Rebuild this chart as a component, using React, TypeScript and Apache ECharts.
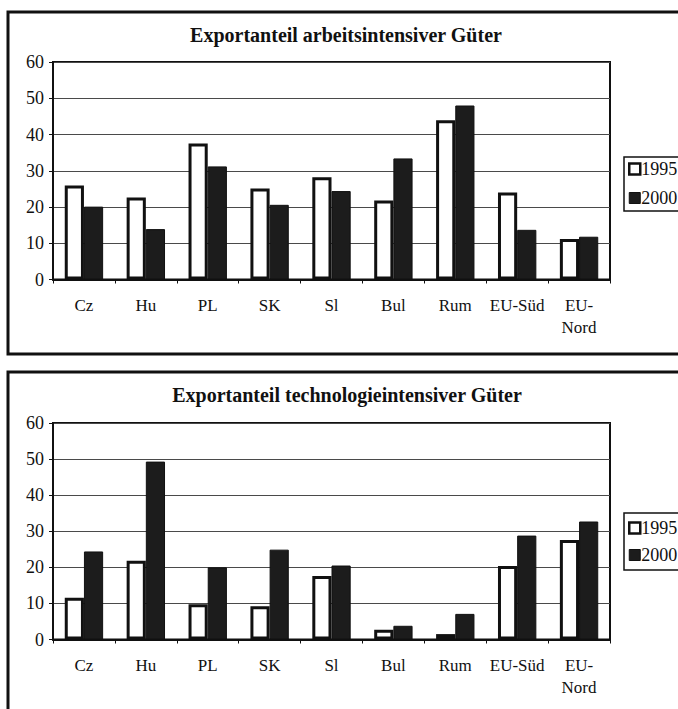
import React, { useEffect, useRef } from "react";
import * as echarts from "echarts";

const categories = ["Cz", "Hu", "PL", "SK", "Sl", "Bul", "Rum", "EU-Süd", "EU-\nNord"];
const yTicks = [0, 10, 20, 30, 40, 50, 60];

const labor1995 = [25.9, 22.6, 37.5, 25.1, 28.2, 21.8, 43.9, 24.0, 11.2];
const labor2000 = [20.1, 13.9, 31.2, 20.6, 24.4, 33.4, 48.0, 13.7, 11.8];

const tech1995 = [11.6, 21.8, 9.8, 9.2, 17.6, 2.7, 1.5, 20.4, 27.6];
const tech2000 = [24.4, 49.3, 20.0, 24.9, 20.5, 3.8, 7.1, 28.8, 32.7];

const titles = [
  "Exportanteil arbeitsintensiver Güter",
  "Exportanteil technologieintensiver Güter",
];
const years = ["1995", "2000"];

const FONT = '"Liberation Serif", "Times New Roman", serif';
const INK = "#111111";

export default function App() {
  const ref = useRef<HTMLDivElement>(null);

  useEffect(() => {
    if (!ref.current) return;
    const chart = echarts.init(ref.current, undefined, { renderer: "svg" });

    const grids = [
      { left: 53, top: 62, width: 557, height: 217.5 },
      { left: 53, top: 423, width: 557, height: 216.5 },
    ];

    const xAxis = grids.map((_, i) => ({
      type: "category",
      gridIndex: i,
      data: categories,
      axisLine: { show: true, lineStyle: { color: INK, width: 2 } },
      axisTick: { show: true, length: 4, lineStyle: { color: INK, width: 1 } },
      axisLabel: {
        color: INK,
        fontFamily: FONT,
        fontSize: 17,
        lineHeight: 22,
        margin: 15,
        interval: 0,
      },
      splitLine: { show: false },
    }));

    const yAxis = grids.map((_, i) => ({
      type: "value",
      gridIndex: i,
      min: 0,
      max: 60,
      interval: 10,
      axisLine: { show: true, lineStyle: { color: INK, width: 2 } },
      axisTick: { show: true, length: 4, lineStyle: { color: INK, width: 1 } },
      axisLabel: {
        color: INK,
        fontFamily: FONT,
        fontSize: 18,
        margin: 9,
        formatter: (v: number) => (yTicks.includes(v) ? String(v) : ""),
      },
      splitLine: { show: true, lineStyle: { color: "#4a4a4a", width: 1 } },
    }));

    const whiteStyle = { color: "#ffffff", borderColor: INK, borderWidth: 3 };
    const blackStyle = { color: "#1c1c1c", borderColor: INK, borderWidth: 1 };

    const mkSeries = (name: string, data: number[], idx: number, style: any) => ({
      type: "bar",
      name,
      data,
      xAxisIndex: idx,
      yAxisIndex: idx,
      barGap: "0%",
      barCategoryGap: "38%",
      itemStyle: style,
      emphasis: { disabled: true },
    });

    const series = [
      mkSeries(years[0], labor1995, 0, whiteStyle),
      mkSeries(years[1], labor2000, 0, blackStyle),
      mkSeries(years[0], tech1995, 1, whiteStyle),
      mkSeries(years[1], tech2000, 1, blackStyle),
    ];

    const legendData = [
      { name: years[0], itemStyle: { color: "#ffffff", borderColor: INK, borderWidth: 2.5 } },
      { name: years[1], itemStyle: { color: "#1c1c1c", borderColor: INK, borderWidth: 1 } },
    ];

    const mkLegend = (top: number, gap: number, padding: number[]) => ({
      orient: "vertical",
      left: 624,
      top,
      data: legendData,
      icon: "rect",
      itemWidth: 11,
      itemHeight: 11,
      itemGap: gap,
      padding,
      borderColor: INK,
      borderWidth: 1.5,
      selectedMode: false,
      textStyle: {
        color: INK,
        fontFamily: FONT,
        fontSize: 18,
        lineHeight: 16,
        padding: [0, 0, 0, -4],
      },
    });

    chart.setOption({
      animation: false,
      backgroundColor: "#ffffff",
      grid: grids.map((g) => ({
        ...g,
        show: true,
        borderColor: INK,
        borderWidth: 2,
        backgroundColor: "transparent",
      })),
      xAxis,
      yAxis,
      series,
      legend: [mkLegend(157, 11, [3, 8, 4, 4]), mkLegend(513, 9, [6, 8, 6, 4])],
      graphic: [
        {
          type: "rect",
          shape: { x: 8, y: 12, width: 720, height: 342 },
          style: { fill: "none", stroke: INK, lineWidth: 3 },
          silent: true,
        },
        {
          type: "rect",
          shape: { x: 8, y: 372, width: 720, height: 400 },
          style: { fill: "none", stroke: INK, lineWidth: 3 },
          silent: true,
        },
        {
          type: "text",
          x: 346,
          y: 35,
          style: {
            text: titles[0],
            fill: INK,
            font: `bold 20px ${FONT}`,
            textAlign: "center",
            textVerticalAlign: "middle",
          },
          silent: true,
        },
        {
          type: "text",
          x: 347,
          y: 395,
          style: {
            text: titles[1],
            fill: INK,
            font: `bold 20px ${FONT}`,
            textAlign: "center",
            textVerticalAlign: "middle",
          },
          silent: true,
        },
      ],
    });

    return () => chart.dispose();
  }, []);

  return (
    <div
      ref={ref}
      style={{ position: "fixed", left: 0, top: 0, width: 678, height: 709, background: "#fff" }}
    />
  );
}
